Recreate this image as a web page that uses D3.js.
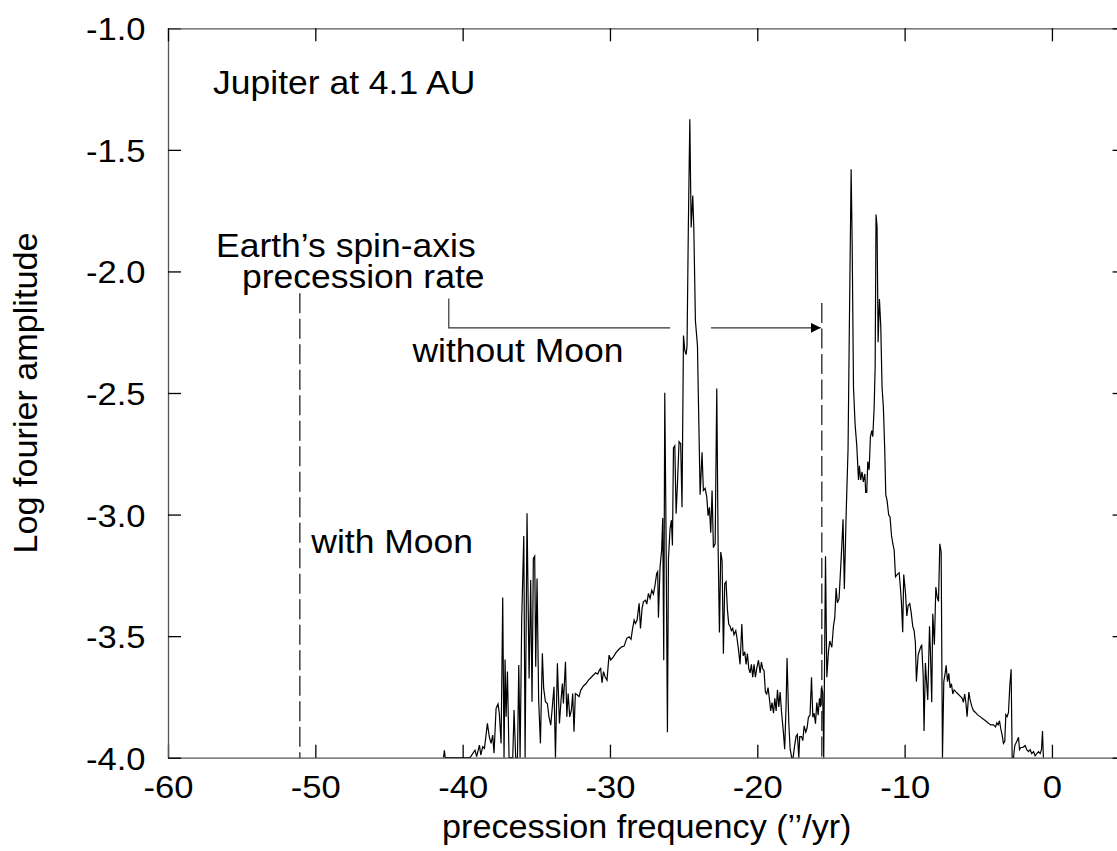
<!DOCTYPE html>
<html>
<head>
<meta charset="utf-8">
<script src="https://cdn.jsdelivr.net/npm/d3@7"></script>
<style>
  body { margin: 0; background: #fff; }
  svg { display: block; }
</style>
</head>
<body>
<script>
// spectrum: frequency ("/yr) and log fourier amplitude
const freq = [
  -41.30, -41.24, -41.18,
  -39.50, -39.16, -39.05, -38.86, -38.77, -38.64, -38.52, -38.32, -38.19, -38.07, -37.96, -37.87,
  -37.73, -37.60, -37.51, -37.39, -37.28, -37.19, -37.12, -37.05, -36.96, -36.85, -36.60, -36.51,
  -36.40, -36.28, -36.19, -36.10, -35.99, -35.85, -35.76, -35.63, -35.49, -35.38, -35.29, -35.20,
  -35.11, -35.04, -34.95, -34.84, -34.72, -34.59, -34.50, -34.38, -34.25, -34.14, -34.02, -33.93,
  -33.80, -33.70, -33.57, -33.43, -33.32, -33.23, -33.16, -33.02, -32.93, -32.84, -32.73, -32.62,
  -32.53, -32.44, -32.35, -32.21, -32.10, -31.98, -31.80, -31.62, -31.46, -31.28, -31.12, -30.97,
  -30.83, -30.72, -30.63, -30.54, -30.44, -30.33, -30.20, -30.11, -30.06, -29.95, -29.77, -29.59,
  -29.41, -29.20, -29.04, -28.86, -28.70, -28.57, -28.48, -28.36, -28.27, -28.16, -28.02, -27.93,
  -27.82, -27.73, -27.59, -27.50, -27.39, -27.28, -27.16, -27.05, -26.94, -26.83, -26.76,
  -26.71, -26.60, -26.49, -26.42, -26.35, -26.28, -26.19, -26.10, -26.03, -25.92, -25.83, -25.76,
  -25.69, -25.60, -25.51, -25.42, -25.31, -25.20, -25.11, -25.01, -24.92, -24.83, -24.77, -24.68,
  -24.58, -24.49, -24.38, -24.31, -24.20, -24.06, -24.00, -23.88, -23.75, -23.66, -23.54, -23.43,
  -23.34, -23.25, -23.16, -23.07, -22.98, -22.86, -22.75, -22.66, -22.57, -22.48, -22.39, -22.30,
  -22.21, -22.12, -22.03, -21.94, -21.85, -21.76, -21.67, -21.58, -21.46, -21.37, -21.26, -21.17,
  -21.05, -20.96, -20.85, -20.76, -20.67, -20.58, -20.49, -20.40, -20.31, -20.22, -20.13, -20.04,
  -19.92, -19.81, -19.72, -19.63, -19.54, -19.45, -19.36, -19.27, -19.18, -19.09, -19.00, -18.90,
  -18.81, -18.72, -18.63, -18.54, -18.45, -18.36, -18.23, -18.14, -18.04, -17.98, -17.86, -17.77,
  -17.66, -17.57, -17.46, -17.37, -17.28, -17.18, -17.12, -17.00, -16.91, -16.82, -16.71, -16.62,
  -16.53, -16.42, -16.32, -16.23, -16.14, -16.05, -15.96, -15.87, -15.78, -15.71, -15.65, -15.56,
  -15.49, -15.37, -15.28, -15.17, -15.08, -14.94, -14.83, -14.74, -14.65, -14.56, -14.45,
  -14.27, -14.18, -14.09, -13.97, -13.84, -13.75, -13.63, -13.56, -13.47, -13.36, -13.25, -13.13,
  -13.07, -12.98, -12.89, -12.80, -12.70, -12.64, -12.57, -12.50, -12.41, -12.32, -12.23, -12.16,
  -12.07, -12.00, -11.94, -11.87, -11.80, -11.71, -11.62, -11.53, -11.44, -11.35, -11.28, -11.19,
  -11.08, -10.99, -10.89, -10.80, -10.71, -10.62, -10.51, -10.37, -10.28, -10.22, -10.13, -10.06,
  -9.94, -9.85, -9.76, -9.65, -9.56, -9.45, -9.36, -9.27, -9.20, -9.08, -8.95, -8.84,
  -8.74, -8.68, -8.59, -8.50, -8.43, -8.31, -8.25, -8.16, -8.09, -7.98, -7.88, -7.79,
  -7.70, -7.61, -7.52, -7.43, -7.34, -7.25, -7.18, -7.09, -7.00, -6.91, -6.82, -6.73,
  -6.64, -6.50, -6.37, -6.23, -6.10, -6.01, -5.92, -5.83, -5.76, -5.64, -5.55, -5.44,
  -5.33, -5.19, -5.06, -4.88, -4.69, -4.51, -4.33, -4.15, -3.97, -3.83, -3.74, -3.65,
  -3.56, -3.47, -3.38, -3.29, -3.20, -3.13, -3.04, -2.95, -2.86, -2.77, -2.70, -2.61,
  -2.52, -2.39, -2.27, -2.20, -2.11, -1.98, -1.82, -1.71, -1.59, -1.48, -1.37, -1.25,
  -1.14, -1.03, -0.91, -0.80, -0.71, -0.64, -0.58
];
const logAmp = [
  -4.000, -3.970, -4.000,
  -4.000, -3.969, -3.996, -3.948, -3.989, -3.955, -3.962, -3.859, -3.914, -3.941, -3.907, -3.982,
  -3.797, -3.779, -3.818, -3.941, -3.341, -4.000, -3.596, -3.832, -3.646, -4.000, -4.000, -3.804,
  -4.000, -4.000, -3.619, -4.000, -3.427, -3.088, -4.000, -2.995, -3.674, -3.269, -3.770, -3.180,
  -3.171, -3.626, -3.263, -3.763, -3.941, -3.571, -3.715, -3.770, -3.777, -3.832, -3.866, -3.804,
  -3.708, -4.000, -3.612, -3.859, -3.763, -3.695, -3.777, -3.605, -3.832, -3.736, -3.832, -3.804,
  -3.736, -3.893, -3.736, -3.742, -3.749, -3.722, -3.705, -3.695, -3.681, -3.670, -3.660, -3.651,
  -3.656, -3.640, -3.633, -3.692, -3.646, -3.667, -3.681, -3.612, -3.578, -3.598, -3.585, -3.568,
  -3.555, -3.544, -3.541, -3.509, -3.503, -3.513, -3.475, -3.434, -3.448, -3.434, -3.365, -3.468,
  -3.386, -3.359, -3.352, -3.368, -3.324, -3.345, -3.311, -3.327, -3.290, -3.242, -3.235,
  -3.424, -3.215, -3.145, -3.014, -3.599, -2.499, -3.110, -3.895, -3.180, -3.058, -3.023, -3.127,
  -2.726, -2.717, -2.997, -2.874, -2.700, -2.709, -2.970, -2.264, -2.325, -2.342, -2.307, -1.819,
  -1.374, -1.819, -1.688, -1.819, -2.203, -2.307, -2.517, -2.918, -2.744, -2.901, -2.892, -2.927,
  -3.005, -2.970, -3.075, -2.901, -3.136, -3.119, -2.482, -3.127, -3.485, -3.154, -3.189, -3.572,
  -3.284, -3.276, -3.389, -3.450, -3.459, -3.477, -3.468, -3.494, -3.477, -3.511, -3.564, -3.616,
  -3.450, -3.581, -3.564, -3.616, -3.572, -3.634, -3.651, -3.616, -3.669, -3.616, -3.669, -3.634,
  -3.599, -3.651, -3.607, -3.634, -3.642, -3.730, -3.738, -3.712, -3.756, -3.808, -3.773, -3.817,
  -3.756, -3.808, -3.721, -3.791, -3.730, -3.808, -3.895, -3.965, -3.773, -3.590, -3.860, -3.965,
  -4.000, -4.000, -3.948, -3.913, -3.904, -4.000, -3.913, -3.913, -3.930, -3.869, -3.895, -3.878,
  -3.834, -3.825, -3.669, -3.834, -3.817, -3.860, -3.773, -3.825, -3.756, -3.791, -3.712, -3.730,
  -4.000, -3.171, -3.669, -3.564, -3.520, -3.546, -3.459, -3.424, -3.302, -3.363, -3.346,
  -3.137, -3.019, -3.306, -3.002, -2.731, -2.223, -1.580, -1.885, -2.477, -2.630, -2.714, -2.858,
  -2.799, -2.858, -2.824, -2.866, -2.833, -2.909, -2.909, -2.782, -2.816, -2.680, -2.655, -2.680,
  -2.562, -2.393, -1.766, -1.817, -2.291, -2.113, -2.223, -2.477, -2.562, -2.731, -2.917, -2.943,
  -3.002, -3.010, -3.086, -3.120, -3.146, -3.256, -3.247, -3.239, -3.306, -3.357, -3.484, -3.247,
  -3.323, -3.417, -3.374, -3.366, -3.400, -3.459, -3.476, -3.526, -3.687, -3.577, -3.552, -3.535,
  -3.662, -3.890, -3.611, -3.696, -3.763, -3.459, -3.560, -3.772, -3.408, -3.535, -3.298, -3.340,
  -3.357, -3.120, -3.154, -4.000, -3.687, -3.653, -3.620, -3.687, -3.653, -3.713, -3.696, -3.738,
  -3.721, -3.730, -3.738, -3.747, -3.755, -3.772, -3.738, -3.780, -3.831, -3.730, -3.763, -3.789,
  -3.806, -3.814, -3.823, -3.831, -3.840, -3.848, -3.857, -3.865, -3.865, -3.873, -3.857, -3.865,
  -3.848, -3.882, -3.907, -3.941, -3.933, -3.823, -3.831, -3.814, -3.704, -3.636, -4.000, -4.000,
  -3.950, -3.933, -3.916, -3.967, -3.958, -3.958, -3.950, -3.967, -3.975, -3.967, -3.983, -3.975,
  -3.992, -3.983, -3.975, -3.983, -3.967, -3.890, -4.000
];

// ticks
const xTicks = [-60, -50, -40, -30, -20, -10, 0];
const yTicks = [-4.0, -3.5, -3.0, -2.5, -2.0, -1.5, -1.0];

// dashed markers: Earth's spin-axis precession rate with / without Moon
const rateFreq = [-51.05, -15.62];
const rateTop = [-2.09, -2.13];

// annotations (anchored in data units)
const noteTexts = ['Jupiter at 4.1 AU', 'Earth\u2019s spin-axis', 'precession rate', 'without Moon', 'with Moon'];
const noteFreq = [-56.94, -56.74, -54.98, -43.41, -50.27];
const noteAmp = [-1.2715, -1.9395, -2.0695, -2.3715, -3.1596];

// arrow from the label to the "without Moon" line (gap where the peak passes)
const arrowLeg1 = [[-40.94, -2.111], [-40.94, -2.232], [-25.91, -2.232]];
const arrowLeg2 = [[-23.14, -2.232], [-15.69, -2.232]];

const FONT = "'Liberation Sans', Arial, Helvetica, sans-serif";

// widen text a little, the original lettering is broader than Arial
function stretchText(sel, k) {
    sel.each(function() {
        const w = this.getComputedTextLength();
        d3.select(this)
            .attr('textLength', w * k)
            .attr('lengthAdjust', 'spacingAndGlyphs');
    });
}

function renderSVG() {
    const width = 1117;
    const height = 851;
    const plot = { left: 168, right: 1125.6, top: 28.3, bottom: 757.7 };

    const scaleX = d3.scaleLinear().domain([-60, 5]).range([plot.left, plot.right]);
    const scaleY = d3.scaleLinear().domain([-4, -1]).range([plot.bottom, plot.top]);

    const svg = d3.select('body')
        .append('svg')
        .attr('width', width)
        .attr('height', height)
        .attr('font-family', FONT);

    const defs = svg.append('defs');

    defs.append('clipPath')
        .attr('id', 'plot-clip')
        .append('rect')
        .attr('x', plot.left)
        .attr('y', plot.top)
        .attr('width', plot.right - plot.left)
        .attr('height', plot.bottom - plot.top);

    defs.append('marker')
        .attr('id', 'arrow-head')
        .attr('markerUnits', 'userSpaceOnUse')
        .attr('markerWidth', 11)
        .attr('markerHeight', 11)
        .attr('refX', 10)
        .attr('refY', 5)
        .attr('orient', 'auto')
        .append('path')
        .attr('d', 'M0,0 L10,5 L0,10 Z')
        .attr('fill', '#000');

    // ---------- axes (ticks point inward on all four sides) ----------
    const tickLen = 13;

    const bottomAxis = svg.append('g')
        .attr('transform', `translate(0,${plot.bottom})`)
        .call(d3.axisBottom(scaleX).tickValues(xTicks).tickSizeInner(-tickLen).tickSizeOuter(0)
            .tickFormat(d => String(d)));

    const leftAxis = svg.append('g')
        .attr('transform', `translate(${plot.left},0)`)
        .call(d3.axisLeft(scaleY).tickValues(yTicks).tickSizeInner(-tickLen).tickSizeOuter(0)
            .tickFormat(d => d.toFixed(1)));

    svg.append('g')
        .attr('transform', `translate(0,${plot.top})`)
        .call(d3.axisTop(scaleX).tickValues(xTicks).tickSizeInner(-tickLen).tickSizeOuter(0)
            .tickFormat(''));

    svg.append('g')
        .attr('transform', `translate(${plot.right},0)`)
        .call(d3.axisRight(scaleY).tickValues(yTicks).tickSizeInner(-tickLen).tickSizeOuter(0)
            .tickFormat(''));

    svg.selectAll('.domain').attr('stroke', '#555').attr('stroke-width', 1.3);
    svg.selectAll('.tick line').attr('stroke', '#000').attr('stroke-width', 1.3);

    bottomAxis.selectAll('text')
        .attr('font-family', FONT)
        .attr('font-size', 32)
        .attr('fill', '#000')
        .attr('y', 40)
        .attr('dy', null)
        .call(stretchText, 1.08);

    leftAxis.selectAll('text')
        .attr('font-family', FONT)
        .attr('font-size', 32)
        .attr('fill', '#000')
        .attr('x', -22.5)
        .attr('dy', '0.36em')
        .call(stretchText, 1.08);

    // ---------- axis titles ----------
    svg.append('text')
        .attr('x', (plot.left + plot.right) / 2)
        .attr('y', 838)
        .attr('text-anchor', 'middle')
        .attr('font-size', 33)
        .text('precession frequency (\u2019\u2019/yr)')
        .call(stretchText, 1.035);

    svg.append('text')
        .attr('transform', `translate(37.3,${(plot.top + plot.bottom) / 2}) rotate(-90)`)
        .attr('text-anchor', 'middle')
        .attr('font-size', 33)
        .text('Log fourier amplitude')
        .call(stretchText, 1.035);

    // ---------- dashed precession-rate lines ----------
    svg.selectAll('line.rate')
        .data(rateFreq)
        .enter()
        .append('line')
        .attr('class', 'rate')
        .attr('x1', d => scaleX(d))
        .attr('x2', d => scaleX(d))
        .attr('y1', (d, i) => scaleY(rateTop[i]))
        .attr('y2', scaleY(-4))
        .attr('stroke', '#222')
        .attr('stroke-width', 1.3)
        .attr('stroke-dasharray', '20,5.5');

    // ---------- spectrum ----------
    const points = freq.map((f, i) => [f, logAmp[i]]);
    const line = d3.line().x(d => scaleX(d[0])).y(d => scaleY(d[1]));

    svg.append('path')
        .datum(points)
        .attr('clip-path', 'url(#plot-clip)')
        .attr('d', line)
        .attr('fill', 'none')
        .attr('stroke', '#000')
        .attr('stroke-width', 1.2)
        .attr('stroke-linejoin', 'miter');

    // ---------- arrow ----------
    svg.append('path')
        .datum(arrowLeg1)
        .attr('d', line)
        .attr('fill', 'none')
        .attr('stroke', '#333')
        .attr('stroke-width', 1.2);

    svg.append('path')
        .datum(arrowLeg2)
        .attr('d', line)
        .attr('fill', 'none')
        .attr('stroke', '#333')
        .attr('stroke-width', 1.2)
        .attr('marker-end', 'url(#arrow-head)');

    // ---------- annotations ----------
    svg.selectAll('text.note')
        .data(noteTexts)
        .enter()
        .append('text')
        .attr('class', 'note')
        .attr('x', (d, i) => scaleX(noteFreq[i]))
        .attr('y', (d, i) => scaleY(noteAmp[i]))
        .attr('font-size', 33)
        .attr('fill', '#000')
        .text(d => d)
        .call(stretchText, 1.075);
}

window.addEventListener('load', function() {
    requestAnimationFrame(renderSVG);
});
</script>
</body>
</html>
